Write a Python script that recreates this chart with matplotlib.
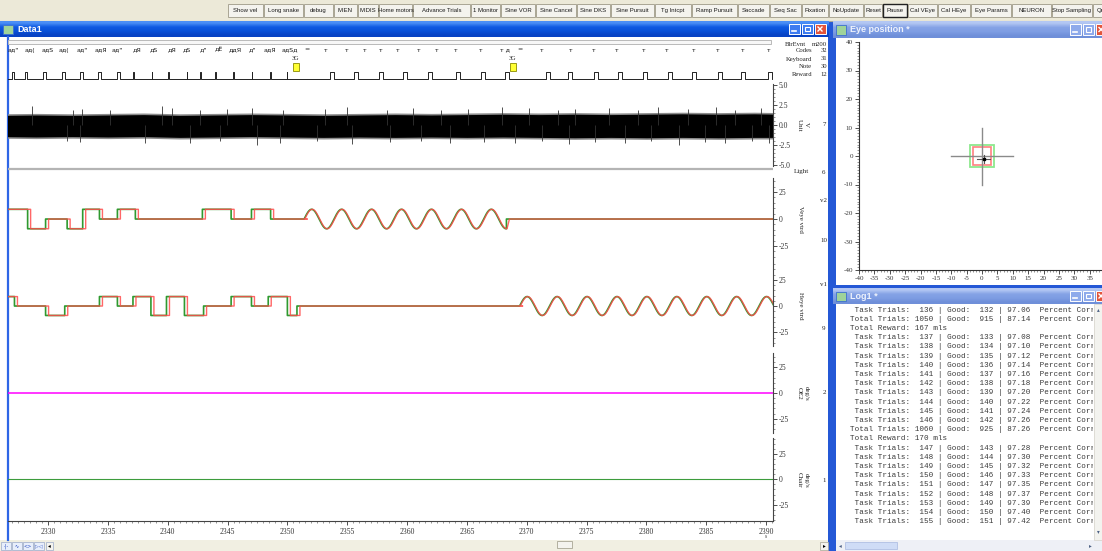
import numpy as np
import matplotlib.pyplot as plt
from matplotlib.patches import Rectangle
from matplotlib.colors import to_rgb
from matplotlib.ticker import MultipleLocator, FormatStrFormatter

plt.rcParams['axes.unicode_minus'] = False

W, H = 1102, 551

# ---- data -------------------------------------------------------------
T_START, T_END = 2326.66, 2390.57
X_TICKS = list(range(2330, 2391, 5))

# vertical target steps: start, end, level (deg)
VEYE_STEPS = [(2326.0, 2328.3, 9), (2328.3, 2329.8, -9), (2329.8, 2331.6, 0),
              (2331.6, 2332.9, -9), (2332.9, 2334.3, 9), (2334.3, 2335.8, 0),
              (2335.8, 2337.3, 9), (2337.3, 2342.9, 0), (2342.9, 2345.3, 9),
              (2345.3, 2347.0, 0), (2347.0, 2348.6, 9), (2348.6, 2351.4, 0)]
VEYE_SINE = (2351.4, 2368.3)
VEYE_AFTER = [(2368.3, 2391.0, 0)]

# horizontal target steps
HEYE_STEPS = [(2326.0, 2327.2, 9), (2327.2, 2329.8, 0), (2329.8, 2331.4, -9),
              (2331.4, 2334.3, 0), (2334.3, 2335.8, 9), (2335.8, 2337.1, 0),
              (2337.1, 2338.6, 9), (2338.6, 2339.9, -9), (2339.9, 2341.4, 9),
              (2341.4, 2343.0, -9), (2343.0, 2345.3, 0), (2345.3, 2347.0, 9),
              (2347.0, 2348.4, 0), (2348.4, 2350.0, 9), (2350.0, 2350.8, -9),
              (2350.8, 2369.4, 0)]
HEYE_SINE = (2369.4, 2391.0)
HEYE_AFTER = []

SINE_FREQ = 0.4      # Hz
SINE_AMP = 9.0       # deg
STEP_LAG = 0.25      # eye latency on steps (s)
PURSUIT_LAG = 0.05   # eye latency during sine pursuit (s)

OE2_LEVEL = 0.0
CHAIR_LEVEL = 0.0
LIGHT_LEVEL = 0.0

# unit channel envelope (V), sampled every 3 s
UNIT_T = [2326, 2329, 2332, 2335, 2338, 2341, 2344, 2347, 2350, 2353, 2356,
          2359, 2362, 2365, 2368, 2371, 2374, 2377, 2380, 2383, 2386, 2389, 2391]
UNIT_HI = [1.20, 1.25, 1.20, 1.25, 1.30, 1.20, 1.25, 1.30, 1.25, 1.20, 1.25,
           1.30, 1.25, 1.30, 1.35, 1.30, 1.35, 1.30, 1.35, 1.40, 1.35, 1.40, 1.35]
UNIT_LO = [-1.45, -1.50, -1.45, -1.50, -1.45, -1.55, -1.50, -1.45, -1.50, -1.55, -1.50,
           -1.55, -1.50, -1.55, -1.50, -1.55, -1.60, -1.55, -1.60, -1.55, -1.60, -1.55, -1.55]
SPIKES_UP_T = [2328.64, 2332.09, 2332.84, 2335.18, 2339.52, 2340.36, 2342.70, 2344.96,
               2347.04, 2349.63, 2353.14, 2354.98, 2358.32, 2360.5, 2362.8, 2365.1,
               2367.9, 2370.2, 2372.6, 2374.0, 2376.9, 2379.3, 2381.0, 2383.5,
               2385.8, 2387.4, 2389.6]
SPIKES_UP_V = [2.4, 1.9, 2.0, 1.9, 2.4, 2.1, 1.9, 2.0, 2.1, 1.9, 2.0, 2.2, 1.9,
               2.1, 1.9, 2.0, 2.2, 2.1, 1.9, 2.0, 2.1, 1.9, 2.2, 2.0, 2.3, 1.9, 2.1]
SPIKES_DN_T = [2331.59, 2332.67, 2338.10, 2341.86, 2344.37, 2347.46, 2349.38, 2352.47,
               2355.40, 2358.57, 2361.2, 2363.6, 2366.4, 2369.0, 2371.3, 2373.5,
               2375.7, 2378.2, 2380.4, 2382.7, 2384.9, 2386.6, 2388.8, 2390.2]
SPIKES_DN_V = [-2.0, -2.1, -2.2, -2.3, -2.0, -2.5, -2.2, -2.0, -2.4, -2.1, -2.0,
               -2.2, -2.1, -2.3, -2.0, -2.4, -2.1, -2.2, -2.0, -2.5, -2.1, -2.3, -2.0, -2.2]

# digital marker pulses (s) and their widths
PULSE_T = [2326.97, 2328.08, 2329.61, 2331.14, 2332.67, 2334.20, 2335.74, 2337.13,
           2338.66, 2340.05, 2341.59, 2342.70, 2343.95, 2345.48, 2347.02, 2348.55,
           2349.94, 2353.56, 2355.56, 2357.65, 2359.66, 2361.75, 2364.09, 2366.17,
           2368.18, 2371.60, 2373.44, 2375.61, 2377.62, 2379.70, 2381.79, 2383.80,
           2385.97, 2387.89, 2390.15]
PULSE_W = [0.15, 0.2, 0.25, 0.25, 0.25, 0.25, 0.25, 0.06, 0.06, 0.06, 0.06, 0.06,
           0.06, 0.06, 0.06, 0.06, 0.06, 0.35, 0.35, 0.35, 0.35, 0.35, 0.35, 0.35,
           0.35, 0.35, 0.35, 0.35, 0.35, 0.35, 0.35, 0.35, 0.35, 0.35, 0.35]

# text-marker codes
CODE_T = [2327.08, 2328.50, 2330.0, 2331.34, 2332.84, 2334.43, 2335.76, 2337.44,
          2338.86, 2340.36, 2341.61, 2342.95, 2344.29, 2345.62, 2347.04, 2348.55,
          2350.22, 2351.64, 2353.22, 2354.98, 2356.48, 2357.82, 2359.24, 2361.0,
          2362.5, 2364.09, 2366.17, 2368.18, 2369.4, 2371.27, 2373.69, 2375.61,
          2377.53, 2379.79, 2381.71, 2383.97, 2385.97, 2388.06, 2390.23]
CODE_TXT = ['ад"', 'ад(', 'адЅ', 'ад(', 'ад"', 'адЯ', 'ад"', 'дЯ', 'дЅ', 'дЯ',
            'дЅ', 'д"', 'дЁ', 'ддЯ', 'д"', 'адЯ', 'адЅд', '=', 'т', 'т', 'т', 'т',
            'т', 'т', 'т', 'т', 'т', 'т д', '=', 'т', 'т', 'т', 'т', 'т', 'т', 'т',
            'т', 'т', 'т']
KEY_T = [2350.72, 2368.85]
KEY_TXT = ['3G', '3G']

# eye position window
EYE_X, EYE_Y = 0.5, -1.0
FIX_CROSS = 10
TARGET_WIN = 4
EYE_WIN = 3

# log window
LOG_TASK = [136, None, None, 137, 138, 139, 140, 141, 142, 143, 144, 145, 146,
            None, None, 147, 148, 149, 150, 151, 152, 153, 154, 155]
LOG_GOOD = [132, 915, None, 133, 134, 135, 136, 137, 138, 139, 140, 141, 142,
            925, None, 143, 144, 145, 146, 147, 148, 149, 150, 151]
LOG_PCT = [97.06, 87.14, None, 97.08, 97.10, 97.12, 97.14, 97.16, 97.18, 97.20,
           97.22, 97.24, 97.26, 87.26, None, 97.28, 97.30, 97.32, 97.33, 97.35,
           97.37, 97.39, 97.40, 97.42]
LOG_TOTAL = {1: 1050, 13: 1060}
LOG_REWARD = {2: 167, 14: 170}

BUTTONS = ["Show vel", "Long snake", "debug", "MIEN", "MIDIS", "Home motors",
           "Advance Trials", "1 Monitor", "Sine VOR", "Sine Cancel", "Sine DKS",
           "Sine Pursuit", "Tg Intcpt", "Ramp Pursuit", "Saccade", "Seq Sac",
           "Fixation", "NoUpdate", "Reset", "Pause", "Cal VEye", "Cal HEye",
           "Eye Params", "NEURON", "Stop Sampling", "Qu"]
BUTTON_EDGES = [228, 264, 304, 334, 358, 379, 413, 471, 501, 536, 577, 611, 655,
                692, 738, 770, 802, 829, 864, 883, 908, 938, 971, 1012, 1052, 1093, 1110]

GREEN = '#2f9a2f'
RED = '#ff4c4c'
SERIF = 'Liberation Serif'
UI = 'Liberation Sans'

# ---- figure and window chrome -----------------------------------------
fig = plt.figure(figsize=(W / 100, H / 100), dpi=100)
bg = fig.add_axes([0, 0, 1, 1])
bg.set_zorder(-5)
bg.axis('off')


def px_axes(x0, y0, x1, y1):
    ax = fig.add_axes([x0 / W, 1 - y1 / H, (x1 - x0) / W, (y1 - y0) / H])
    ax.set_facecolor('none')
    return ax


def box(x0, y0, x1, y1, fc, ec='none', lw=0.8, z=1):
    bg.add_patch(Rectangle((x0, y0), x1 - x0, y1 - y0, facecolor=fc,
                           edgecolor=ec, linewidth=lw, zorder=z))


def title_bar(x0, x1, y0, y1, title, active):
    if active:
        cols = ['#4a8ef6', '#0f5ae2', '#0a51d8', '#0843c4']
    else:
        cols = ['#b3c7f3', '#86a3e6', '#7e9de3', '#6f8fd9']
    grad = np.array([to_rgb(c) for c in cols])[:, None, :]
    bg.imshow(grad, extent=(x0, x1, y1, y0), aspect='auto',
              interpolation='bilinear', zorder=2)
    bg.text(x0 + 17, (y0 + y1) / 2 + 0.5, title, color='white' if active else '#eef2fc',
            fontsize=6.5, fontweight='bold', family=UI, va='center', zorder=3)
    box(x0 + 3, y0 + 4, x0 + 13, y1 - 3, '#9fd39a', ec='#3c6fd0', lw=0.6, z=3)
    # minimise / maximise / close
    bx = x1 - 40
    for i, fc in enumerate(['#3d7bf0', '#3d7bf0', '#e2543a']):
        if not active and i < 2:
            fc = '#8eaaeb'
        box(bx + i * 13, y0 + 3, bx + i * 13 + 11, y1 - 3, fc, ec='white', lw=0.7, z=3)
    mid = (y0 + y1) / 2
    bg.plot([bx + 3, bx + 7], [y1 - 6, y1 - 6], color='white', lw=1.2, zorder=4)
    box(bx + 16, y0 + 6, bx + 21, y1 - 6, 'none', ec='white', lw=0.8, z=4)
    bg.plot([bx + 29, bx + 33], [mid - 2, mid + 2], color='white', lw=1.0, zorder=4)
    bg.plot([bx + 29, bx + 33], [mid + 2, mid - 2], color='white', lw=1.0, zorder=4)


# workspace / frames
box(0, 0, W, H, '#2458d6')
# toolbar
box(0, 0, W, 21, '#ece9d8', z=1)
bg.plot([0, W], [20.5, 20.5], color='#aca899', lw=0.8, zorder=2)
for i, lab in enumerate(BUTTONS):
    x0, x1 = BUTTON_EDGES[i], BUTTON_EDGES[i + 1] - 1
    ec = '#222222' if lab == 'Pause' else '#a9a594'
    box(x0, 4, x1, 17, '#f4f3ee', ec=ec, lw=0.7 if lab != 'Pause' else 1.0, z=2)
    bg.text((x0 + x1) / 2, 10.8, lab, fontsize=4.3, family=UI, color='#1a1a1a',
            ha='center', va='center', zorder=3, clip_on=True)

# Data1 window
title_bar(0, 829, 21, 37, 'Data1', True)
box(0, 37, 828, 540, 'white', z=1)
bg.plot([7.5, 7.5], [37, 540], color='#2f66e6', lw=1.6, zorder=2)
box(0, 540, 828, H, '#f1efe2', z=1)
for i, g in enumerate(['-|-', '∿', '<>', '▷◁']):
    box(1 + i * 11, 542, 11 + i * 11, 550, '#e8eefb', ec='#9aa8c8', lw=0.5, z=2)
    bg.text(6 + i * 11, 546, g, fontsize=3.5, color='#2b4fc0', ha='center',
            va='center', family='DejaVu Sans', zorder=3)
box(46, 542, 53, 550, '#f4f3ee', ec='#9aa8c8', lw=0.5, z=2)
bg.text(49.5, 546, '◂', fontsize=4, ha='center', va='center', zorder=3)
box(557, 541, 572, 548, '#f4f3ee', ec='#a9a594', lw=0.6, z=2)
box(820, 542, 828, 550, '#f4f3ee', ec='#a9a594', lw=0.5, z=2)
bg.text(824, 546, '▸', fontsize=4, ha='center', va='center', zorder=3)
box(8, 39.5, 771, 43.5, '#f7f7f7', ec='#b9b9b9', lw=0.7, z=2)

# Eye position window
title_bar(833, 1110, 21, 38, 'Eye position *', False)
box(836, 38, W, 285, 'white', z=1)
# Log window
title_bar(833, 1110, 288, 304, 'Log1 *', False)
box(836, 304, W, 540, 'white', z=1)
box(1094, 304, W, 540, '#f3f3ef', ec='#d4d0c8', lw=0.5, z=2)
bg.text(1098, 310, '▴', fontsize=4, color='#4d6185', ha='center', va='center', zorder=3)
bg.text(1098, 532, '▾', fontsize=4, color='#4d6185', ha='center', va='center', zorder=3)
box(836, 540, W, H, '#eef0f6', z=1)
box(845, 542, 897, 549, '#cfdcf6', ec='#a6b8e0', lw=0.5, z=2)
bg.text(840, 546, '◂', fontsize=4, color='#4d6185', ha='center', va='center', zorder=3)
bg.text(1090, 546, '▸', fontsize=4, color='#4d6185', ha='center', va='center', zorder=3)

bg.set_xlim(0, W)
bg.set_ylim(H, 0)

# ---- Data1 channels ---------------------------------------------------
XL, XR = 8, 773


def chan_axes(y0, y1, ylim, major, minor, fmt):
    ax = px_axes(XL, y0, XR, y1)
    ax.set_xlim(T_START, T_END)
    ax.set_ylim(*ylim)
    for s in ('left', 'top', 'bottom'):
        ax.spines[s].set_visible(False)
    ax.spines['right'].set_color('#444444')
    ax.spines['right'].set_linewidth(0.8)
    ax.yaxis.tick_right()
    ax.set_yticks(major)
    ax.yaxis.set_major_formatter(FormatStrFormatter(fmt))
    ax.yaxis.set_minor_locator(MultipleLocator(minor))
    ax.tick_params(axis='y', which='major', length=3, width=0.6, labelsize=5.5,
                   pad=1, colors='#333333', labelfontfamily=SERIF)
    ax.tick_params(axis='y', which='minor', length=1.5, width=0.4, colors='#444444')
    ax.set_xticks([])
    return ax


def build_trace(steps, sine, after, lag_step, lag_sine):
    t, v = [], []
    for a, b, lev in steps:
        t += [a + lag_step, b + lag_step]
        v += [lev, lev]
    ts = np.linspace(sine[0], sine[1], 600)
    t += list(ts + lag_sine)
    v += list(SINE_AMP * np.sin(2 * np.pi * SINE_FREQ * (ts - sine[0])))
    for a, b, lev in after:
        t += [a + lag_step, b + lag_step]
        v += [lev, lev]
    return np.array(t), np.array(v)


# event / marker rows
ax_ev = px_axes(XL, 44, XR, 86)
ax_ev.set_xlim(T_START, T_END)
ax_ev.set_ylim(86, 44)
ax_ev.axis('off')
for t, s in zip(CODE_T, CODE_TXT):
    ax_ev.text(t, 50, s, fontsize=4.5, family='DejaVu Sans', color='#1a1a1a',
               ha='center', va='center')
for t, s in zip(KEY_T, KEY_TXT):
    ax_ev.text(t, 58, s, fontsize=4.5, family=SERIF, color='#222222',
               ha='center', va='center')
    ax_ev.add_patch(Rectangle((t - 0.22, 63), 0.44, 8, facecolor='#ffff33',
                              edgecolor='#8a8a00', linewidth=0.6))
px_, py_ = [T_START], [79]
for t, w in zip(PULSE_T, PULSE_W):
    px_ += [t, t, t + w, t + w]
    py_ += [79, 72, 72, 79]
px_.append(T_END)
py_.append(79)
ax_ev.plot(px_, py_, color='#222222', lw=0.7)

# unit
ax_u = chan_axes(84, 166, (-5.125, 5.125), [5, 2.5, 0, -2.5, -5], 0.5, '%.1f')
ax_u.fill_between(UNIT_T, np.array(UNIT_LO) - 0.2, np.array(UNIT_HI) + 0.2,
                  color='#8c8c8c', lw=0)
ax_u.fill_between(UNIT_T, UNIT_LO, UNIT_HI, color='black', lw=0)
ax_u.vlines(SPIKES_UP_T, 0, SPIKES_UP_V, color='#333333', lw=0.6)
ax_u.vlines(SPIKES_DN_T, 0, SPIKES_DN_V, color='#333333', lw=0.6)

# light
ax_l = px_axes(XL, 159, XR, 179)
ax_l.set_xlim(T_START, T_END)
ax_l.set_ylim(-1, 1)
ax_l.axis('off')
ax_l.plot([T_START, T_END], [LIGHT_LEVEL, LIGHT_LEVEL], color='#b4b4b4', lw=1.6)

# vertical eye: target in green, eye in red on top
ax_v = chan_axes(178, 262, (-39.8, 38.0), [25, 0, -25], 5, '%d')
t, v = build_trace(VEYE_STEPS, VEYE_SINE, VEYE_AFTER, 0, 0)
ax_v.plot(t, v, color=GREEN, lw=1.2)
t, v = build_trace(VEYE_STEPS, VEYE_SINE, VEYE_AFTER, STEP_LAG, PURSUIT_LAG)
ax_v.plot(t, v, color=RED, lw=1.0, alpha=0.85)

# horizontal eye
ax_h = chan_axes(263, 346, (-38.1, 41.0), [25, 0, -25], 5, '%d')
t, v = build_trace(HEYE_STEPS, HEYE_SINE, HEYE_AFTER, 0, 0)
ax_h.plot(t, v, color=GREEN, lw=1.2)
t, v = build_trace(HEYE_STEPS, HEYE_SINE, HEYE_AFTER, STEP_LAG, PURSUIT_LAG)
ax_h.plot(t, v, color=RED, lw=1.0, alpha=0.85)

# OE2
ax_o = chan_axes(353, 433, (-38.8, 38.8), [25, 0, -25], 5, '%d')
ax_o.plot([T_START, T_END], [OE2_LEVEL, OE2_LEVEL], color='#ff00ff', lw=1.1)

# chair, with the time axis
ax_c = chan_axes(438, 521, (-40.9, 40.5), [25, 0, -25], 5, '%d')
ax_c.plot([T_START, T_END], [CHAIR_LEVEL, CHAIR_LEVEL], color='#3d9c3d', lw=0.8)
ax_c.spines['bottom'].set_visible(True)
ax_c.spines['bottom'].set_color('#444444')
ax_c.spines['bottom'].set_linewidth(0.8)
ax_c.set_xticks(X_TICKS)
ax_c.xaxis.set_minor_locator(MultipleLocator(0.5))
ax_c.tick_params(axis='x', which='major', length=3, width=0.6, labelsize=5.5,
                 pad=2, colors='#333333', labelfontfamily=SERIF)
ax_c.tick_params(axis='x', which='minor', length=1.5, width=0.4, colors='#444444')
bg.text(766, 537, 's', fontsize=4, family=SERIF, color='#333333', ha='center', va='center')

# channel titles and numbers
lab = dict(fontsize=5, family=SERIF, color='#222222', ha='center', va='center')
for y, name, unit, num in [(125, 'Unit', 'V', '7'), (219, 'Veye vtrd', None, None),
                           (306, 'Heye vtrd', None, None), (393, 'OE2', 'deg/s', '2'),
                           (480, 'Chair', 'deg/s', '1')]:
    if unit:
        bg.text(799, y, name, rotation=-90, **lab)
        bg.text(806, y, unit, rotation=-90, **lab)
    else:
        bg.text(801, y, name, rotation=-90, **lab)
    if num:
        bg.text(824, y, num, **lab)
bg.text(801, 172, 'Light', **lab)
bg.text(824, 172, '6', **lab)
for y, s in [(200, 'v2'), (241, '10'), (285, 'v1'), (328, '9')]:
    bg.text(824, y, s, **lab)
for y, name, num in [(44, 'BlrEvnt', 'm200'), (51, 'Codes', '32'), (59, 'Keyboard', '31'),
                     (67, 'Note', '30'), (75, 'Reward', '12')]:
    bg.text(812 if num != 'm200' else 806, y, name, fontsize=4.8, family=SERIF,
            color='#222222', ha='right', va='center')
    bg.text(827, y, num, fontsize=4.8, family=SERIF, color='#222222',
            ha='right', va='center')

# ---- eye position XY view ---------------------------------------------
ax_xy = px_axes(859, 42, 1105, 270)
ax_xy.set_xlim(-40, 40)
ax_xy.set_ylim(-40, 40)
for s in ('top', 'right'):
    ax_xy.spines[s].set_visible(False)
for s in ('left', 'bottom'):
    ax_xy.spines[s].set_color('#333333')
    ax_xy.spines[s].set_linewidth(0.8)
ax_xy.set_xticks(range(-40, 41, 5))
ax_xy.set_yticks(range(-40, 41, 10))
ax_xy.xaxis.set_minor_locator(MultipleLocator(1))
ax_xy.yaxis.set_minor_locator(MultipleLocator(1))
ax_xy.tick_params(which='major', length=3, width=0.6, labelsize=5, pad=1.5,
                  colors='#333333', labelfontfamily=SERIF)
ax_xy.tick_params(which='minor', length=1.5, width=0.4, colors='#444444')
ax_xy.plot([-FIX_CROSS, FIX_CROSS], [0, 0], color='#8a8a8a', lw=1.0)
ax_xy.plot([0, 0], [-FIX_CROSS, FIX_CROSS], color='#8a8a8a', lw=1.0)
ax_xy.add_patch(Rectangle((-TARGET_WIN, -TARGET_WIN), 2 * TARGET_WIN, 2 * TARGET_WIN,
                          fill=False, edgecolor='#8ee88e', lw=1.3))
ax_xy.add_patch(Rectangle((-EYE_WIN, -EYE_WIN), 2 * EYE_WIN, 2 * EYE_WIN,
                          fill=False, edgecolor='#ff8080', lw=1.2))
ax_xy.plot([EYE_X - 2, EYE_X + 2], [EYE_Y, EYE_Y], color='#555555', lw=0.8)
ax_xy.plot([EYE_X, EYE_X], [EYE_Y - 1.5, EYE_Y + 1.5], color='#555555', lw=0.8)
ax_xy.plot([EYE_X], [EYE_Y], marker='s', ms=1.8, color='black')

# ---- log text ---------------------------------------------------------
ax_log = px_axes(836, 304, 1093, 540)
ax_log.set_xlim(836, 1093)
ax_log.set_ylim(540, 304)
ax_log.axis('off')
lines = []
for i in range(len(LOG_TASK)):
    if i in LOG_REWARD:
        lines.append(f'Total Reward: {LOG_REWARD[i]} mls')
    elif i in LOG_TOTAL:
        lines.append(f'Total Trials: {LOG_TOTAL[i]:4d} | Good: {LOG_GOOD[i]:4d} | '
                     f'{LOG_PCT[i]:5.2f}  Percent Correct')
    else:
        lines.append(f' Task Trials:  {LOG_TASK[i]:3d} | Good:  {LOG_GOOD[i]:3d} | '
                     f'{LOG_PCT[i]:5.2f}  Percent Correct')
for i, s in enumerate(lines):
    ax_log.text(850.5, 310 + i * 9.2, s, fontsize=5.5, family='Liberation Mono',
                color='#3a3a3a', ha='left', va='center', clip_on=True)

fig.savefig('out.png', dpi=100)
